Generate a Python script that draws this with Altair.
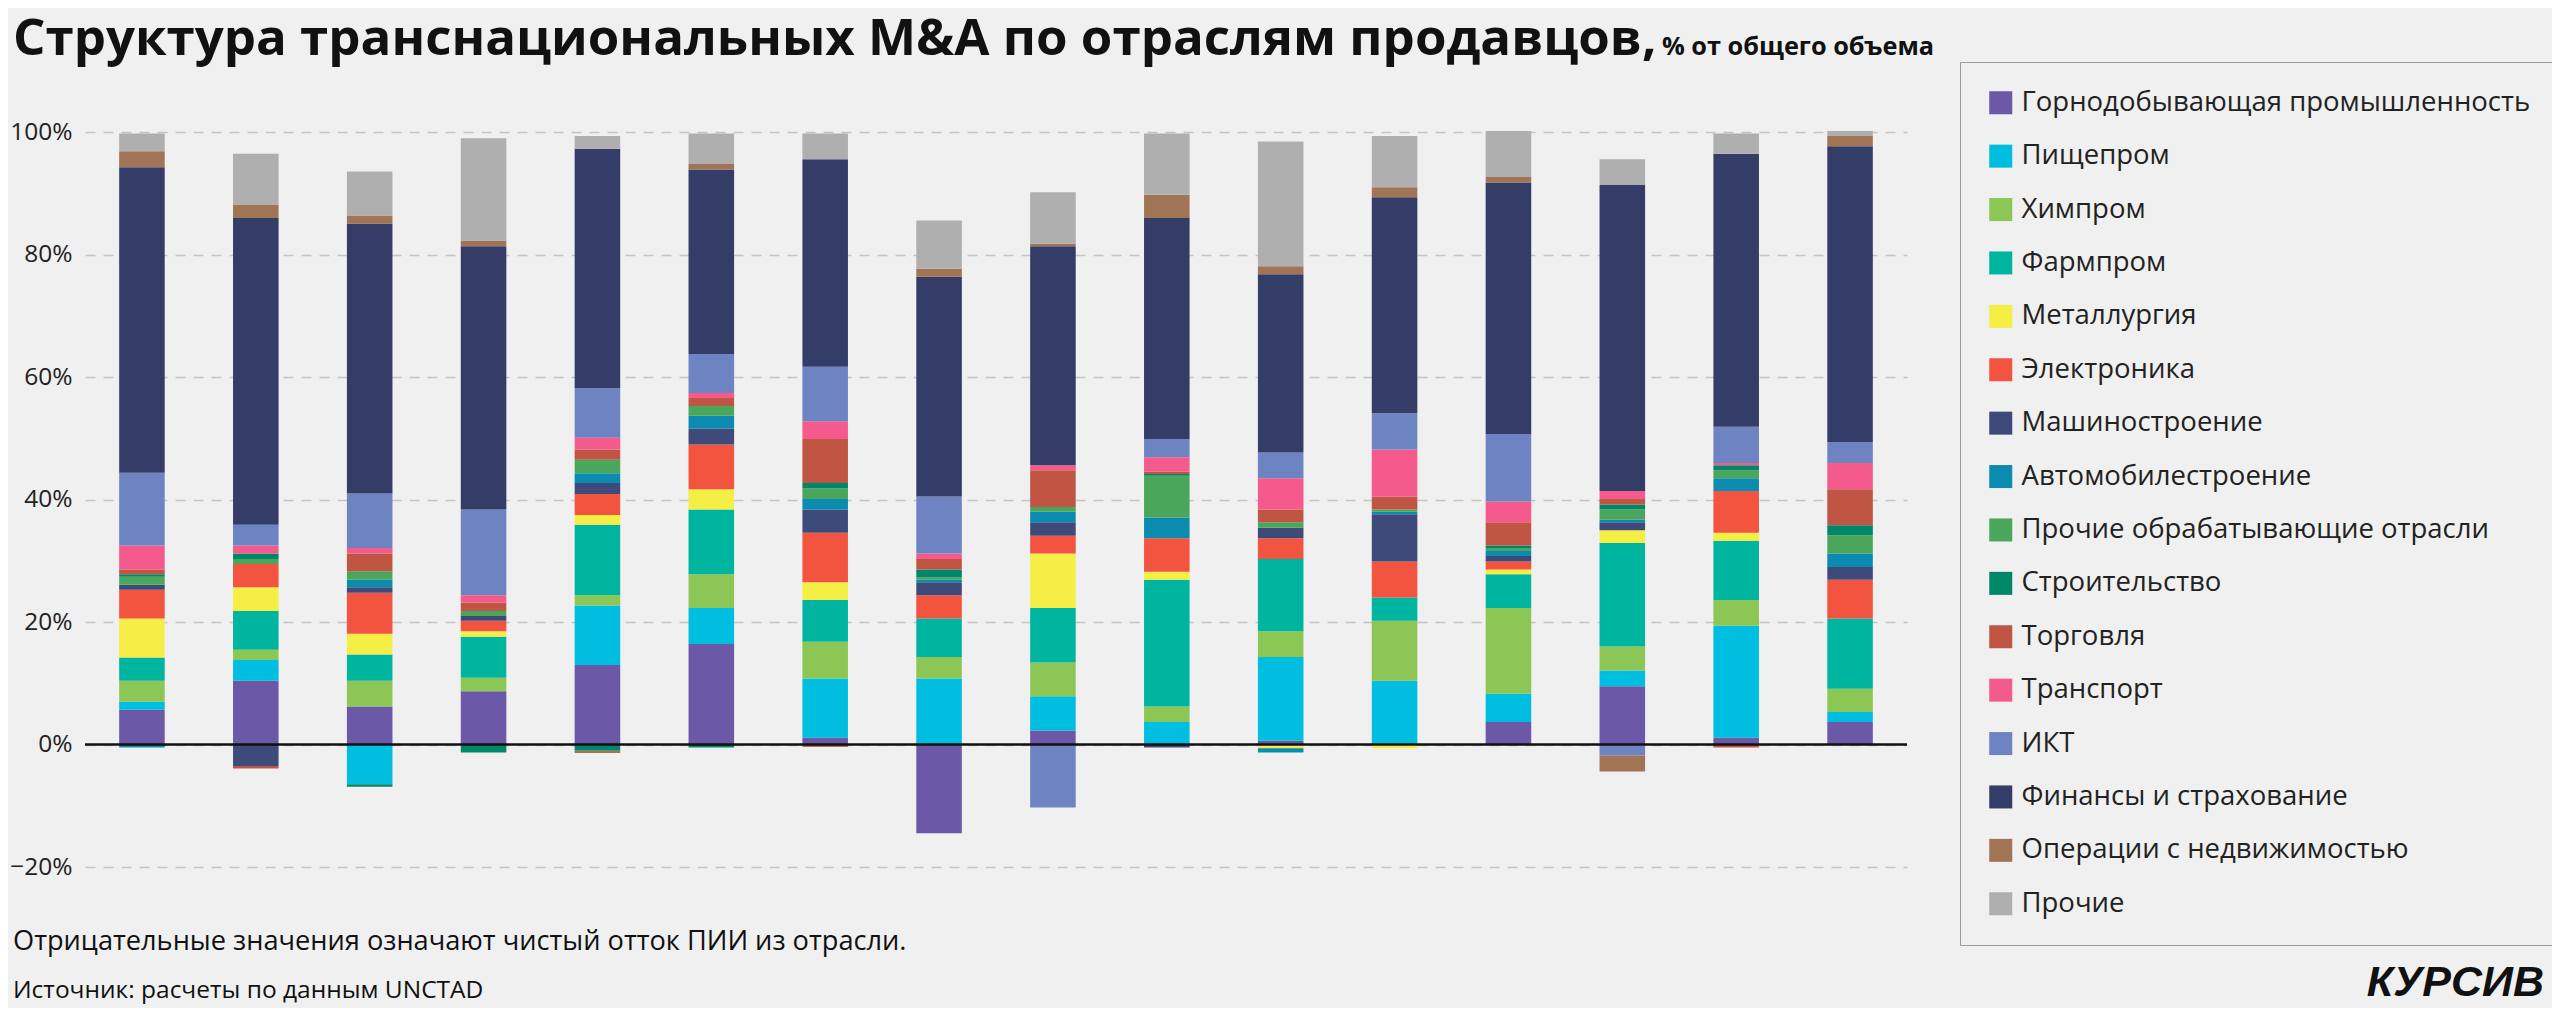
import altair as alt
import pandas as pd

# ---------------- data ----------------
bars = [str(i) for i in range(1, 17)]

categories = [
    "Горнодобывающая промышленность", "Пищепром", "Химпром", "Фармпром",
    "Металлургия", "Электроника", "Машиностроение", "Автомобилестроение",
    "Прочие обрабатывающие отрасли", "Строительство", "Торговля", "Транспорт",
    "ИКТ", "Финансы и страхование", "Операции с недвижимостью", "Прочие",
]
colors = [
    "#6b58a6", "#00bee0", "#8cc655", "#00b5a0",
    "#f5ee45", "#f25440", "#3e4a7a", "#0b8bb0",
    "#4aa65a", "#00876a", "#bf5542", "#f45a8c",
    "#6e84c2", "#343d68", "#a07455", "#b0afaf",
]

mining     = [5.7, 10.4, 6.2, 8.7, 13.0, 16.4, 1.1, -14.5, 2.3, 0, 0.6, 0, 3.7, 9.5, 1.1, 3.7]
food       = [1.3, 3.4, -6.5, 0, 9.7, 5.9, 9.7, 10.8, 5.6, 3.7, 13.7, 10.4, 4.6, 2.6, 18.3, 1.6]
chem       = [3.4, 1.7, 4.2, 2.2, 1.7, 5.5, 6.0, 3.5, 5.5, 2.5, 4.2, 9.8, 14.0, 3.9, 4.2, 3.8]
pharma     = [3.8, 6.3, 4.3, 6.7, 11.5, 10.6, 6.8, 6.3, 8.9, 20.7, 11.8, 3.8, 5.5, 16.9, 9.7, 11.5]
metal      = [6.4, 3.9, 3.4, 0.9, 1.6, 3.3, 2.9, 0, 8.9, 1.3, -0.6, -0.6, 0.8, 2.1, 1.3, 0]
electro    = [4.7, 3.8, 6.7, 1.7, 3.4, 7.3, 8.1, 3.8, 2.9, 5.5, 3.4, 5.9, 1.3, 0, 6.8, 6.3]
machinery  = [0.8, -3.5, 0.9, 0.8, 1.8, 2.6, 3.8, 2.1, 2.2, -0.5, 1.7, 7.7, 0.9, 1.3, 0, 2.1]
auto       = [-0.5, 0, 1.2, 0, 1.6, 2.1, 1.7, 0.4, 1.7, 3.4, -0.7, 0.4, 0.8, 0.4, 2.1, 2.2]
other_man  = [1.3, 0.8, 1.4, 0.8, 2.2, 1.6, 1.7, 0.4, 0.8, 6.8, 0.9, 0.4, 0.5, 1.7, 1.3, 3.0]
construct  = [0.4, 0.9, -0.4, -1.3, -1.0, -0.5, 0.9, 1.3, 0, 0.3, 0, 0, 0.4, 0.8, 0.8, 1.6]
trade      = [0.8, -0.4, 2.9, 1.4, 1.7, 1.3, 7.2, 1.7, 6.0, 0.4, 2.1, 2.1, 3.8, 0.9, -0.5, 5.9]
transport  = [3.9, 1.3, 0.9, 1.2, 1.9, 0.8, 2.9, 0.9, 0.8, 2.3, 5.1, 7.7, 3.4, 1.3, 0.4, 4.3]
ict        = [11.9, 3.4, 8.9, 14.0, 8.1, 6.4, 8.9, 9.3, -10.3, 3.0, 4.2, 5.9, 11.0, -1.8, 5.9, 3.4]
finance    = [49.9, 50.1, 44.1, 43.0, 39.1, 30.1, 33.9, 35.9, 35.8, 36.1, 29.1, 35.3, 41.1, 50.0, 44.6, 48.3]
realestate = [2.6, 2.1, 1.3, 0.9, -0.4, 0.9, -0.4, 1.3, 0.4, 3.8, 1.3, 1.6, 0.9, -2.6, 0, 1.7]
others     = [2.9, 8.4, 7.2, 16.7, 2.1, 5.0, 4.2, 7.9, 8.4, 10.0, 20.4, 8.4, 7.5, 4.2, 3.3, 0.8]

series = [mining, food, chem, pharma, metal, electro, machinery, auto, other_man,
          construct, trade, transport, ict, finance, realestate, others]

y_ticks = [-20, 0, 20, 40, 60, 80, 100]
zero_line = [0]

title_main = "Структура транснациональных M&A по отраслям продавцов,"
title_unit = "% от общего объема"
note_text = "Отрицательные значения означают чистый отток ПИИ из отрасли."
source_text = "Источник: расчеты по данным UNCTAD"
brand_text = "КУРСИВ"

rows = []
for ci, (cat, vals) in enumerate(zip(categories, series)):
    for b, v in zip(bars, vals):
        rows.append({"bar": b, "cat": cat, "idx": ci, "value": v})
df = pd.DataFrame(rows)

# ---------------- chart ----------------
W, H = 1822, 747
FONT = "Open Sans"
y_scale = alt.Scale(domain=[-20, 102], nice=False, zero=False)
y_axis = alt.Axis(values=y_ticks, title=None, grid=True, gridDash=[10, 8],
                  gridColor="#c4c4c4", gridWidth=1.5, domain=False, ticks=False,
                  labelFont=FONT, labelFontSize=24.5, labelPadding=13,
                  labelColor="#222222",
                  labelExpr="(datum.value < 0 ? '−' + abs(datum.value) : datum.value) + '%'")

bar_layer = alt.Chart(df).mark_bar().encode(
    x=alt.X("bar:N", sort=bars, axis=None,
            scale=alt.Scale(paddingInner=0.6, paddingOuter=0.3)),
    y=alt.Y("value:Q", stack="zero", scale=y_scale, axis=y_axis),
    color=alt.Color("cat:N", scale=alt.Scale(domain=categories, range=colors),
                    legend=alt.Legend(title=None, orient="none", legendX=1875, legendY=-58,
                                      direction="vertical", symbolType="square",
                                      symbolSize=529, symbolStrokeWidth=0,
                                      symbolOpacity=1,
                                      labelFont=FONT, labelFontSize=27.5,
                                      labelColor="#222222", labelOffset=7,
                                      rowPadding=24.4, padding=27, labelLimit=800,
                                      strokeColor="#9a9a9a", fillColor="#f0f0f0")),
    order=alt.Order("idx:Q", sort="ascending"),
)

zero_rule = alt.Chart(pd.DataFrame({"value": zero_line})).mark_rule(
    color="#111111", strokeWidth=2.5
).encode(y=alt.Y("value:Q", scale=y_scale, axis=y_axis))


def text_layer(txt, x, y, **kw):
    return alt.Chart(pd.DataFrame({"t": [txt]})).mark_text(**kw).encode(
        x=alt.value(x), y=alt.value(y), text="t:N"
    )


t1 = text_layer(title_main, -72, -65, align="left", baseline="alphabetic",
                font=FONT, fontSize=51, fontWeight="bold", color="#111111")
t2 = text_layer(title_unit, 1577, -65, align="left", baseline="alphabetic",
                font=FONT, fontSize=25.3, fontWeight="bold", color="#111111")
t3 = text_layer(note_text, -72, 822, align="left", baseline="middle",
                font=FONT, fontSize=27.2, color="#111111")
t4 = text_layer(source_text, -72, 871, align="left", baseline="middle",
                font=FONT, fontSize=24.5, color="#111111")
t5 = text_layer(brand_text, 2459, 863, align="right", baseline="middle",
                font="Liberation Sans", fontSize=43, fontWeight="bold",
                fontStyle="italic", color="#111111")

chart = alt.layer(bar_layer, zero_rule, t1, t2, t3, t4, t5).properties(
    width=W, height=H,
    autosize=alt.AutoSizeParams(type="none"),
    padding={"left": 77, "top": 112, "right": 645, "bottom": 141},
).configure(background="#f0f0f0").configure_view(stroke=None)

chart.save("out.html", embed_options={"renderer": "svg", "actions": False})
